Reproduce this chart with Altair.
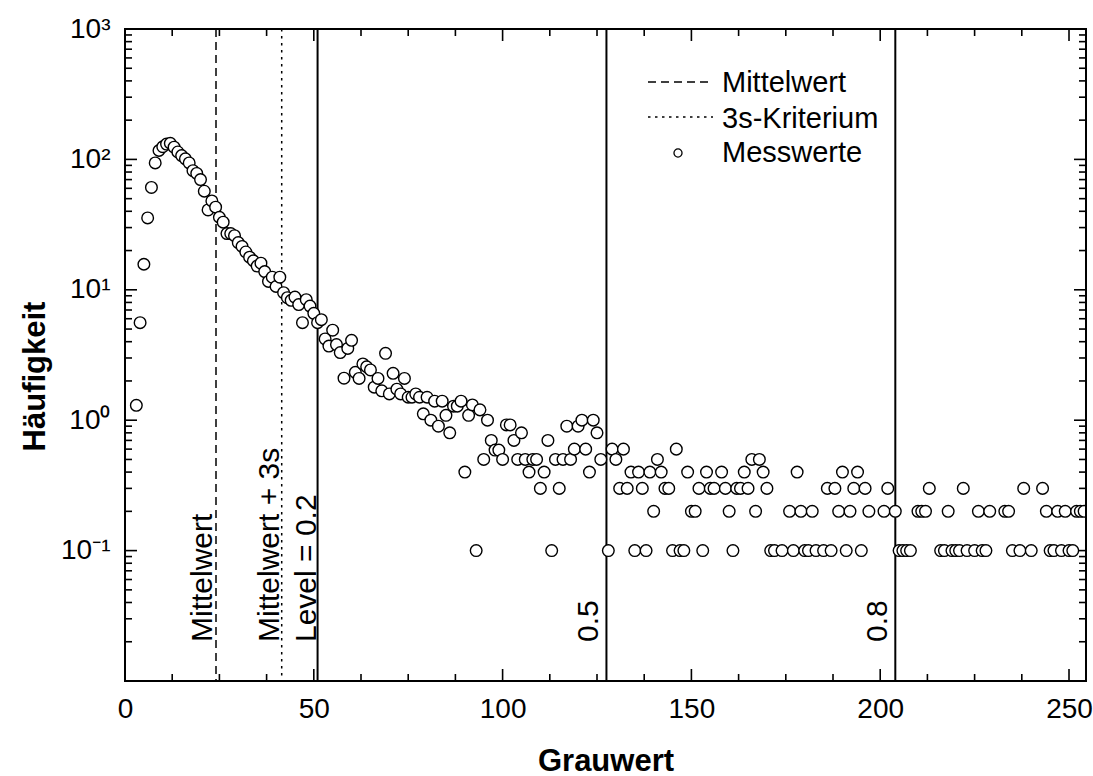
import altair as alt
import pandas as pd

# ---- Messwerte: Grauwert-Klasse und mittlere Häufigkeit ----
grauwert_kurve = list(range(3, 127))
haeufigkeit_kurve = [
    1.3, 5.6, 15.7, 35.6, 61, 94, 117, 125, 131, 133,
    124, 114, 107, 101, 94, 82, 78, 70, 57, 41,
    48, 43, 36, 33, 27, 27, 26, 23, 21.5, 19.5,
    17.8, 16.7, 15.2, 16, 13.8, 11.6, 12.5, 10.6, 12.5, 9.5,
    8.7, 8.3, 8.8, 7.7, 5.6, 8.4, 7.5, 6.6, 5.6, 5.9,
    4.2, 3.7, 4.9, 3.8, 3.3, 2.1, 3.55, 4.1, 2.33, 2.09,
    2.7, 2.57, 2.43, 1.79, 2.09, 1.68, 3.26, 1.59, 2.29, 1.73,
    1.59, 2.09, 1.5, 1.5, 1.59, 1.5, 1.12, 1.5, 1.0, 1.4,
    0.9, 1.4, 1.09, 0.8, 1.28, 1.28, 1.4, 0.4, 1.09, 1.31,
    0.1, 1.2, 0.5, 1.0, 0.7, 0.59, 0.59, 0.5, 0.92, 0.92,
    0.7, 0.5, 0.8, 0.5, 0.4, 0.5, 0.5, 0.3, 0.4, 0.7,
    0.1, 0.5, 0.3, 0.5, 0.9, 0.5, 0.6, 0.9, 1.0, 0.6,
    0.4, 1.0, 0.8, 0.5,
]

# ab hier nur noch vereinzelte Klassen (leere Klassen fehlen in der log-Darstellung)
grauwert_rest = [
    128, 129, 130, 131, 132, 133, 134, 135, 136, 137, 138, 139, 140, 141, 142,
    143, 144, 145, 146, 147, 148, 149, 150, 151, 152, 153, 154, 155, 156, 158,
    159, 160, 161, 162, 163, 164, 165, 166, 167, 168, 169, 170, 171, 172, 174,
    176, 177, 178, 179, 180, 181, 182, 183, 185, 186, 187, 188, 189, 190, 191,
    192, 193, 194, 195, 196, 197, 201, 202, 204, 205, 206, 207, 208, 210, 211,
    212, 213, 216, 217, 218, 219, 220, 221, 222, 223, 225, 226, 227, 228, 229,
    233, 234, 235, 237, 238, 240, 243, 244, 245, 246, 247, 248, 249, 250, 251,
    252, 253, 254,
]
haeufigkeit_rest = [
    0.1, 0.6, 0.5, 0.3, 0.6, 0.3, 0.4, 0.1, 0.4, 0.3, 0.1, 0.4, 0.2, 0.5, 0.4,
    0.3, 0.3, 0.1, 0.6, 0.1, 0.1, 0.4, 0.2, 0.2, 0.3, 0.1, 0.4, 0.3, 0.3, 0.4,
    0.3, 0.2, 0.1, 0.3, 0.3, 0.4, 0.3, 0.5, 0.2, 0.5, 0.4, 0.3, 0.1, 0.1, 0.1,
    0.2, 0.1, 0.4, 0.2, 0.1, 0.1, 0.2, 0.1, 0.1, 0.3, 0.1, 0.3, 0.2, 0.4, 0.1,
    0.2, 0.3, 0.4, 0.1, 0.3, 0.2, 0.2, 0.3, 0.2, 0.1, 0.1, 0.1, 0.1, 0.2, 0.2,
    0.2, 0.3, 0.1, 0.1, 0.2, 0.1, 0.1, 0.1, 0.3, 0.1, 0.1, 0.2, 0.1, 0.1, 0.2,
    0.2, 0.2, 0.1, 0.1, 0.3, 0.1, 0.3, 0.2, 0.1, 0.1, 0.2, 0.1, 0.2, 0.1, 0.1,
    0.2, 0.2, 0.2,
]

# ---- Schwellen (senkrechte Linien) ----
mittelwert = 24.1
mittelwert_3s = 41.5
level_werte = [51.0, 127.5, 204.0]
level_texte = ["Level = 0.2", "0.5", "0.8"]

# ---- Achsen ----
x_labels = [0, 50, 100, 150, 200, 250]
x_minor = [12.5, 25, 37.5, 62.5, 75, 87.5, 112.5, 125, 137.5, 162.5, 175,
           187.5, 212.5, 225, 237.5]
y_labels = [0.1, 1, 10, 100, 1000]
y_label_texte = ["10⁻¹", "10⁰", "10¹", "10²", "10³"]
y_major = [0.01, 0.1, 1, 10, 100, 1000]
y_minor = [k * 10.0 ** e for e in range(-2, 3) for k in range(2, 10)]

legend_texte = ["Mittelwert", "3s-Kriterium", "Messwerte"]

W, H = 961, 652
FONT = "Liberation Sans"

df = pd.DataFrame({
    "g": grauwert_kurve + grauwert_rest,
    "n": haeufigkeit_kurve + haeufigkeit_rest,
})

x_scale = alt.Scale(domain=[0, 254.5], nice=False, zero=False)
y_scale = alt.Scale(type="log", domain=[0.01, 1000], nice=False)

label_expr = " : ".join(
    f"datum.value >= {v * 0.999} ? '{t}'" for v, t in zip(y_labels[::-1], y_label_texte[::-1])
) + " : ''"

x_axis_main = alt.Axis(
    values=x_labels, ticks=False, domain=False, grid=False,
    labelFont=FONT, labelFontSize=28, labelColor="black", labelPadding=36,
    labelBaseline="alphabetic", labelFlush=False, labelOverlap=False, format="d",
    title="Grauwert", titleFont=FONT, titleFontSize=31, titleFontWeight="bold",
    titleColor="black", titleX=W / 2, titleY=89, titleBaseline="alphabetic",
)
y_axis_main = alt.Axis(
    values=y_labels, ticks=False, domain=False, grid=False, labelExpr=label_expr,
    labelFont=FONT, labelFontSize=28, labelColor="black", labelPadding=15,
    labelBaseline="middle", labelFlush=False, labelOverlap=False,
    title="Häufigkeit", titleFont=FONT, titleFontSize=31, titleFontWeight="bold",
    titleColor="black", titleAngle=270, titleX=-81, titleY=347,
    titleBaseline="alphabetic", titleAlign="center",
)

# Messpunkte: weiße Kreise mit schwarzem Rand
punkte = alt.Chart(df).mark_point(
    shape="circle", filled=True, fill="white", stroke="black", strokeWidth=1.4,
    size=135, opacity=1, clip=True,
).encode(
    x=alt.X("g:Q", scale=x_scale, axis=x_axis_main),
    y=alt.Y("n:Q", scale=y_scale, axis=y_axis_main),
)


# nach innen gerichtete Teilstriche an allen vier Rahmenseiten
def x_striche(werte, laenge):
    d = pd.DataFrame({"v": werte})
    enc_x = alt.X("v:Q", scale=x_scale, axis=None)
    unten = alt.Chart(d).mark_rule(color="black", strokeWidth=1.6).encode(
        x=enc_x, y=alt.value(H), y2=alt.value(H - laenge))
    oben = alt.Chart(d).mark_rule(color="black", strokeWidth=1.6).encode(
        x=enc_x, y=alt.value(0), y2=alt.value(laenge))
    return [unten, oben]


def y_striche(werte, laenge):
    d = pd.DataFrame({"v": werte})
    enc_y = alt.Y("v:Q", scale=y_scale, axis=None)
    links = alt.Chart(d).mark_rule(color="black", strokeWidth=1.6).encode(
        y=enc_y, x=alt.value(0), x2=alt.value(laenge))
    rechts = alt.Chart(d).mark_rule(color="black", strokeWidth=1.6).encode(
        y=enc_y, x=alt.value(W), x2=alt.value(W - laenge))
    return [links, rechts]


striche = x_striche(x_labels, 12) + x_striche(x_minor, 7) + \
    y_striche(y_major, 12) + y_striche(y_minor, 7)


def linie(wert, **style):
    return alt.Chart(pd.DataFrame({"g": [wert]})).mark_rule(color="black", **style).encode(
        x=alt.X("g:Q", scale=x_scale, axis=None)
    )


linien = [
    linie(mittelwert, strokeWidth=1.5, strokeDash=[8, 5]),
    linie(mittelwert_3s, strokeWidth=1.5, strokeDash=[2.5, 4.5]),
] + [linie(v, strokeWidth=2) for v in level_werte]


def beschriftung(wert, text, abstand):
    return alt.Chart(pd.DataFrame({"g": [wert], "t": [text]})).mark_text(
        angle=270, align="left", baseline="alphabetic", font=FONT, fontSize=30,
        color="black", dy=-abstand,
    ).encode(
        x=alt.X("g:Q", scale=x_scale, axis=None),
        y=alt.value(613),
        text="t:N",
    )


texte = [
    beschriftung(mittelwert, "Mittelwert", 4),
    beschriftung(mittelwert_3s, "Mittelwert + 3s", 3),
    beschriftung(level_werte[0], level_texte[0], 2),
    beschriftung(level_werte[1], level_texte[1], 8),
    beschriftung(level_werte[2], level_texte[2], 8),
]

# Rahmen um die Zeichenfläche
rahmen = alt.Chart(pd.DataFrame({"t": ["rahmen"]})).mark_rect(
    fill="transparent", stroke="black", strokeWidth=2
).encode(x=alt.value(0), x2=alt.value(W), y=alt.value(0), y2=alt.value(H))

# Legende oben rechts im Diagramm
leg_df = pd.DataFrame({"t": legend_texte})
leg_zeilen = [63, 98.5, 133]
legende = [
    alt.Chart(leg_df.iloc[[i]]).mark_text(
        align="left", baseline="alphabetic", font=FONT, fontSize=29, color="black"
    ).encode(x=alt.value(597), y=alt.value(leg_zeilen[i]), text="t:N")
    for i in range(3)
]
legende += [
    alt.Chart(leg_df.iloc[[0]]).mark_rule(color="black", strokeWidth=1.5, strokeDash=[8, 5]).encode(
        x=alt.value(523), x2=alt.value(588), y=alt.value(53)
    ),
    alt.Chart(leg_df.iloc[[1]]).mark_rule(color="black", strokeWidth=1.5, strokeDash=[2.5, 4.5]).encode(
        x=alt.value(523), x2=alt.value(588), y=alt.value(88)
    ),
    alt.Chart(leg_df.iloc[[2]]).mark_point(
        shape="circle", filled=True, fill="white", stroke="black", strokeWidth=1.3,
        size=65, opacity=1,
    ).encode(x=alt.value(553), y=alt.value(124)),
]

chart = alt.layer(
    *striche, *linien, punkte, rahmen, *texte, *legende
).resolve_axis(
    x="independent", y="independent"
).properties(
    width=W, height=H,
    autosize=alt.AutoSizeParams(type="none"),
    padding={"left": 125, "top": 29, "right": 7, "bottom": 95},
).configure_view(
    strokeWidth=0
).configure(
    background="white"
)

chart.save("out.html", embed_options={"renderer": "svg", "actions": False})
